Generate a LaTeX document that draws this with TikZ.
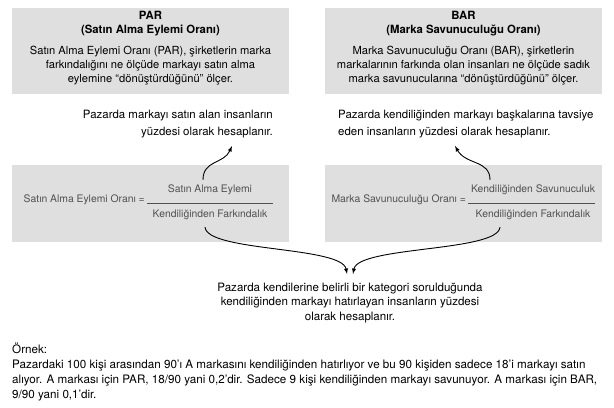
\documentclass[tikz,border=0pt]{standalone}
\usepackage{fontspec}
\setmainfont{TeX Gyre Heros}
\definecolor{boxgray}{RGB}{223,223,223}
\definecolor{formgray}{RGB}{80,80,80}
\begin{document}
\begin{tikzpicture}[x=1bp,y=-1bp,
  graybox/.style={fill=boxgray,draw=none},
  deftext/.style={align=center,inner sep=0pt,font=\fontsize{11.2}{14}\selectfont},
  notetext/.style={inner sep=0pt,font=\fontsize{11.5}{17}\selectfont},
  formtext/.style={inner sep=1bp,text=formgray,font=\fontsize{10.4}{12}\selectfont},
  curlyarrow/.style={->,>=latex,line width=0.9bp}]

\useasboundingbox (0,0) rectangle (614,407);

% gray boxes
\filldraw[graybox] (12,8) rectangle (289,94);
\filldraw[graybox] (325,8) rectangle (602,94);
\filldraw[graybox] (12,165) rectangle (289,242);
\filldraw[graybox] (325,165) rectangle (602,242);

% definitions
\node[deftext,font=\bfseries\fontsize{11.4}{14}\selectfont] (partitle) at (150.5,24) {PAR\\(Satın Alma Eylemi Oranı)};
\node[deftext] (pardef) at (150.5,66) {Satın Alma Eylemi Oranı (PAR), şirketlerin marka\\farkındalığını ne ölçüde markayı satın alma\\eylemine “dönüştürdüğünü” ölçer.};
\node[deftext,font=\bfseries\fontsize{11.4}{14}\selectfont] (bartitle) at (463.5,24) {BAR\\(Marka Savunuculuğu Oranı)};
\node[deftext] (bardef) at (463.5,66) {Marka Savunuculuğu Oranı (BAR), şirketlerin\\markalarının farkında olan insanları ne ölçüde sadık\\marka savunucularına “dönüştürdüğünü” ölçer.};

% notes above the formulas
\node[notetext,anchor=east,align=right] (parnote) at (273,124.5) {Pazarda markayı satın alan insanların\\yüzdesi olarak hesaplanır.};
\node[notetext,anchor=west,align=left] (barnote) at (338,124.5) {Pazarda kendiliğinden markayı başkalarına tavsiye\\eden insanların yüzdesi olarak hesaplanır.};

% formulas
\node[formtext,anchor=east] (parlabel) at (146,200) {Satın Alma Eylemi Oranı =};
\node[formtext] (parnum) at (210,190) {Satın Alma Eylemi};
\node[formtext] (parden) at (210,215) {Kendiliğinden Farkındalık};
\draw[formgray,line width=0.6bp] (147,203) -- (273,203);

\node[formtext,anchor=east] (barlabel) at (467,200) {Marka Savunuculuğu Oranı =};
\node[formtext] (barnum) at (533,190) {Kendiliğinden Savunuculuk};
\node[formtext] (barden) at (533,215) {Kendiliğinden Farkındalık};
\draw[formgray,line width=0.6bp] (468,203) -- (595,203);

% bottom note
\node[notetext,align=center,font=\fontsize{11.6}{15}\selectfont] (recall) at (350,303) {Pazarda kendilerine belirli bir kategori sorulduğunda\\kendiliğinden markayı hatırlayan insanların yüzdesi\\olarak hesaplanır.};

\coordinate (partip) at (232,146);
\coordinate (bartip) at (455,146);
\coordinate (recalltipL) at (347,274);
\coordinate (recalltipR) at (353,274);

% arrows
\draw[curlyarrow] ([xshift=-7bp,yshift=4bp]parnum.north) .. controls (203,160) and (224,164) .. (partip);
\draw[curlyarrow] ([xshift=-43bp,yshift=4bp]barnum.north) .. controls (490,160) and (466,165) .. (bartip);
\draw[curlyarrow] ([xshift=-5bp,yshift=-6bp]parden.south) .. controls (207,252) and (342,246) .. (recalltipL);
\draw[curlyarrow] ([xshift=-33bp,yshift=-6bp]barden.south) .. controls (498,252) and (358,246) .. (recalltipR);

% example
\node[notetext,anchor=north west,align=left,font=\fontsize{11.7}{15}\selectfont] (example) at (12,343) {Örnek:\\Pazardaki 100 kişi arasından 90’ı A markasını kendiliğinden hatırlıyor ve bu 90 kişiden sadece 18’i markayı satın\\alıyor. A markası için PAR, 18/90 yani 0,2’dir. Sadece 9 kişi kendiliğinden markayı savunuyor. A markası için BAR,\\9/90 yani 0,1’dir.};

\end{tikzpicture}
\end{document}
